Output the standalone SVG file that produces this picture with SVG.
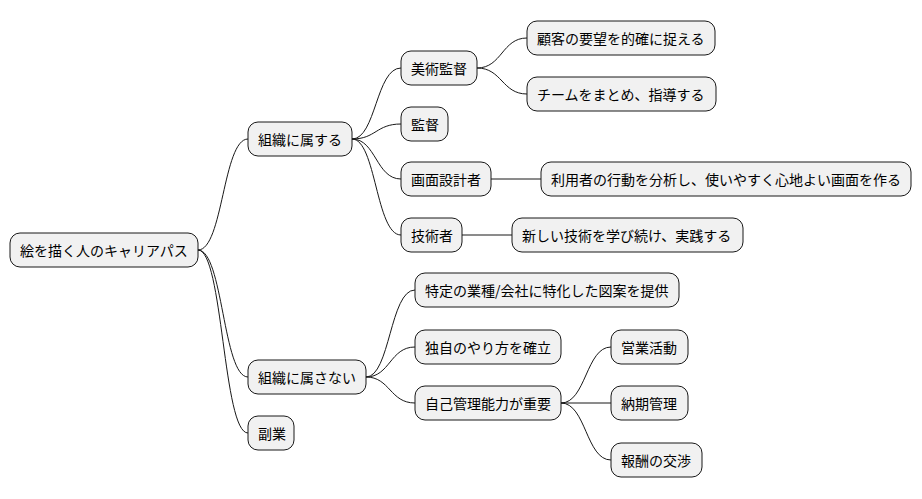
<svg xmlns="http://www.w3.org/2000/svg" width="922" height="499" viewBox="0 0 922 499">
<style>
.n rect{fill:#F1F1F1;stroke:#181818;stroke-width:1}
.n text{font-family:"Noto Sans CJK JP","Noto Sans",sans-serif;font-size:14px;fill:#000;dominant-baseline:central}
#edges path{fill:none;stroke:#181818;stroke-width:1}
</style>
<rect width="922" height="499" fill="#fff"/>
<g id="edges">
<path d="M198,250 C223,250 223,139 248,139"/>
<path d="M198,250 C223,250 223,377 248,377"/>
<path d="M198,250 C223,250 223,433 248,433"/>
<path d="M352,139 C376,139 376,68 401,68"/>
<path d="M352,139 C376,139 376,124 401,124"/>
<path d="M352,139 C376,139 376,179 401,179"/>
<path d="M352,139 C376,139 376,235 401,235"/>
<path d="M477,68 C502,68 502,38 527,38"/>
<path d="M477,68 C502,68 502,94 527,94"/>
<path d="M491,179 L541,179"/>
<path d="M462,235 L512,235"/>
<path d="M366,377 C390,377 390,290 415,290"/>
<path d="M366,377 C390,377 390,347 415,347"/>
<path d="M366,377 C390,377 390,403 415,403"/>
<path d="M561,403 C586,403 586,347 611,347"/>
<path d="M561,403 L611,403"/>
<path d="M561,403 C586,403 586,460 611,460"/>
</g>
<g id="root" class="n"><rect x="10" y="233" width="188" height="34" rx="10"/><text x="20" y="250">絵を描く人のキャリアパス</text></g>
<g id="n1" class="n"><rect x="248" y="122" width="104" height="34" rx="10"/><text x="258" y="139">組織に属する</text></g>
<g id="n11" class="n"><rect x="401" y="51" width="76" height="34" rx="10"/><text x="411" y="68">美術監督</text></g>
<g id="n111" class="n"><rect x="527" y="21" width="188" height="34" rx="10"/><text x="537" y="38">顧客の要望を的確に捉える</text></g>
<g id="n112" class="n"><rect x="527" y="77" width="189" height="34" rx="10"/><text x="537" y="94">チームをまとめ、指導する</text></g>
<g id="n12" class="n"><rect x="401" y="107" width="47" height="34" rx="10"/><text x="411" y="124">監督</text></g>
<g id="n13" class="n"><rect x="401" y="162" width="90" height="34" rx="10"/><text x="411" y="179">画面設計者</text></g>
<g id="n131" class="n"><rect x="541" y="162" width="370" height="34" rx="10"/><text x="551" y="179">利用者の行動を分析し、使いやすく心地よい画面を作る</text></g>
<g id="n14" class="n"><rect x="401" y="218" width="61" height="34" rx="10"/><text x="411" y="235">技術者</text></g>
<g id="n141" class="n"><rect x="512" y="218" width="231" height="34" rx="10"/><text x="522" y="235">新しい技術を学び続け、実践する</text></g>
<g id="n2" class="n"><rect x="248" y="360" width="118" height="34" rx="10"/><text x="258" y="377">組織に属さない</text></g>
<g id="n21" class="n"><rect x="415" y="273" width="264" height="34" rx="10"/><text x="425" y="290">特定の業種/会社に特化した図案を提供</text></g>
<g id="n22" class="n"><rect x="415" y="330" width="146" height="34" rx="10"/><text x="425" y="347">独自のやり方を確立</text></g>
<g id="n23" class="n"><rect x="415" y="386" width="146" height="34" rx="10"/><text x="425" y="403">自己管理能力が重要</text></g>
<g id="n231" class="n"><rect x="611" y="330" width="77" height="34" rx="10"/><text x="621" y="347">営業活動</text></g>
<g id="n232" class="n"><rect x="611" y="386" width="77" height="34" rx="10"/><text x="621" y="403">納期管理</text></g>
<g id="n233" class="n"><rect x="611" y="443" width="91" height="34" rx="10"/><text x="621" y="460">報酬の交渉</text></g>
<g id="n3" class="n"><rect x="248" y="416" width="46" height="34" rx="10"/><text x="258" y="433">副業</text></g>
</svg>
